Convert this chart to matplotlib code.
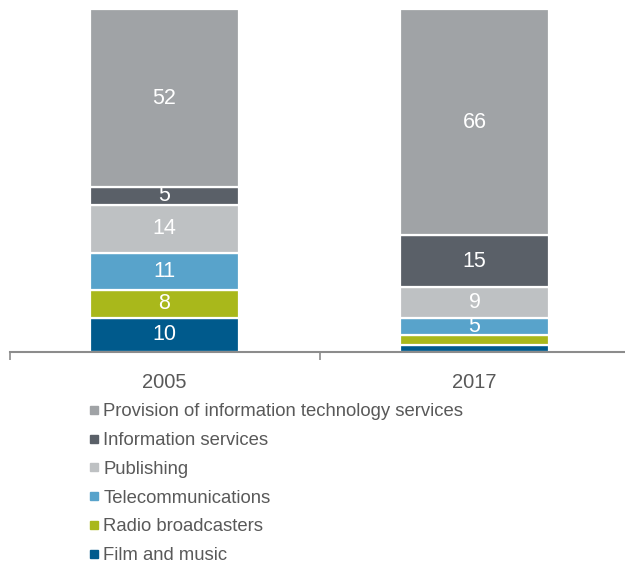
import numpy as np
import matplotlib.pyplot as plt
from matplotlib.lines import Line2D

plt.rcParams['font.family'] = ['Liberation Sans', 'DejaVu Sans']

years = ['2005', '2017']
# bottom to top
sectors = ['Film and music', 'Radio broadcasters', 'Telecommunications',
           'Publishing', 'Information services',
           'Provision of information technology services']
film = [10, 2]
radio = [8, 3]
telecom = [11, 5]
publishing = [14, 9]
info_services = [5, 15]
it_services = [52, 66]
colors = ['#005a8c', '#a9b81b', '#58a3cb', '#bec1c3', '#5a6068', '#a0a3a6']

series = [film, radio, telecom, publishing, info_services, it_services]

fig = plt.figure(figsize=(6.25, 5.67), dpi=100)
ax = fig.add_axes([9.5 / 625, 215 / 567, 620 / 625, 343 / 567])

x = np.arange(len(years))
bottom = np.zeros(len(years))
for vals, c in zip(series, colors):
    vals = np.array(vals, dtype=float)
    ax.bar(x, vals, width=0.48, bottom=bottom, color=c,
           edgecolor='white', linewidth=1.6)
    for xi, v, b in zip(x, vals, bottom):
        if v >= 5:
            ax.text(xi, b + v / 2, str(int(v)), ha='center', va='center',
                    color='white', fontsize=15.5)
    bottom += vals

ax.set_xlim(-0.5, 1.5)
ax.set_ylim(0, 100)
for s in ['top', 'right', 'left']:
    ax.spines[s].set_visible(False)
ax.spines['bottom'].set_color('#8c8c8c')
ax.spines['bottom'].set_linewidth(1.5)
ax.set_yticks([])
ax.set_xticks([-0.5, 0.5, 1.5])
ax.set_xticklabels([])
ax.set_xticks(x, minor=True)
ax.set_xticklabels(years, minor=True)
ax.tick_params(axis='x', which='major', length=6, width=1.2, color='#8c8c8c',
               direction='out')
ax.tick_params(axis='x', which='minor', length=0, pad=15, labelsize=14.5,
               labelcolor='#595959')

handles = [Line2D([], [], marker='s', linestyle='none', markersize=5.5,
                  color=c) for c in colors[::-1]]
fig.legend(handles, sectors[::-1], loc='upper left',
           bbox_to_anchor=(82 / 625, 1 - 396 / 567), frameon=False,
           fontsize=13.3, labelcolor='#595959', handlelength=0.55,
           handletextpad=0.2, labelspacing=0.635, borderaxespad=0)

fig.savefig('out.png', dpi=100)
